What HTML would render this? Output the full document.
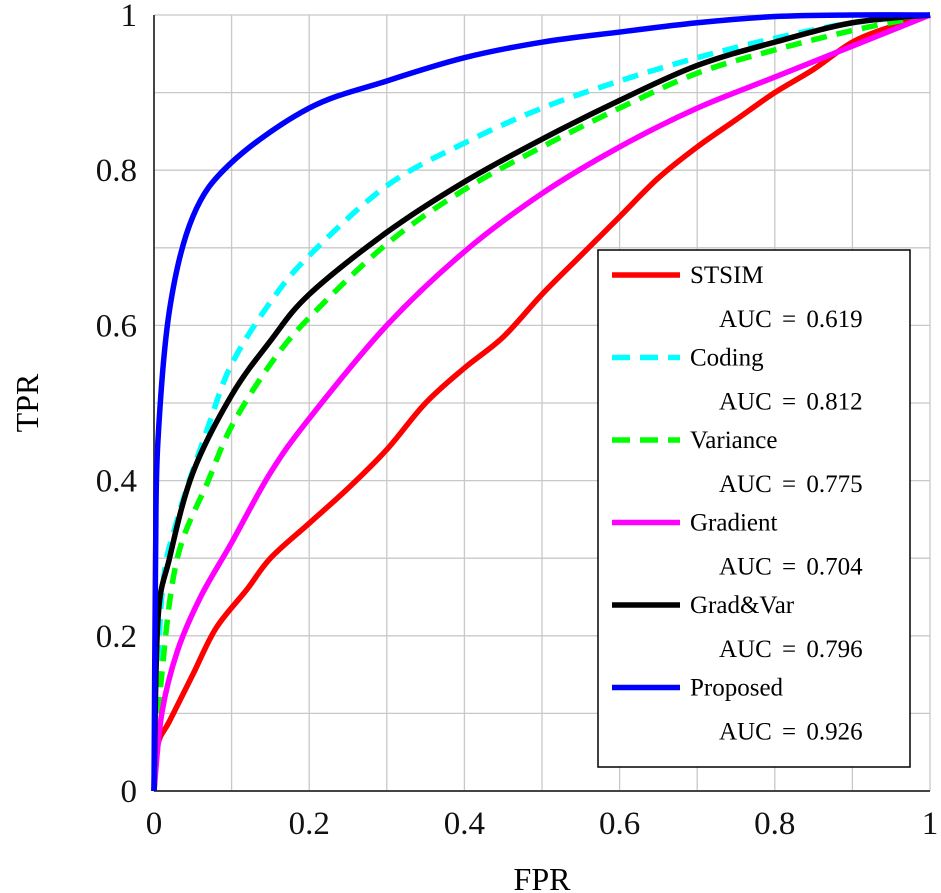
<!DOCTYPE html>
<html><head><meta charset="utf-8"><style>
body{margin:0;background:#fff}
svg{display:block;font-family:"Liberation Serif",serif}
</style></head><body>
<svg id="c" width="941" height="893"></svg>
<script>
const xTicks=[0,0.2,0.4,0.6,0.8,1];
const yTicks=[0,0.2,0.4,0.6,0.8,1];
const tickLabels=["0","0.2","0.4","0.6","0.8","1"];
const seriesNames=["STSIM","Coding","Variance","Gradient","Grad&Var","Proposed"];
const aucValues=["0.619","0.812","0.775","0.704","0.796","0.926"];
const stsimX=[0,0.005,0.02,0.05,0.08,0.12,0.15,0.2,0.25,0.3,0.35,0.4,0.45,0.5,0.55,0.6,0.65,0.7,0.75,0.8,0.85,0.9,0.95,1];
const stsimY=[0,0.06,0.09,0.15,0.21,0.26,0.3,0.345,0.39,0.44,0.5,0.545,0.585,0.64,0.69,0.74,0.79,0.83,0.865,0.9,0.93,0.965,0.985,1];
const codingX=[0,0.01,0.03,0.07,0.1,0.15,0.2,0.3,0.4,0.5,0.6,0.7,0.8,0.9,1];
const codingY=[0,0.25,0.35,0.47,0.55,0.63,0.69,0.78,0.835,0.88,0.915,0.945,0.97,0.99,1];
const varX=[0,0.01,0.03,0.07,0.1,0.15,0.2,0.3,0.4,0.5,0.6,0.7,0.8,0.9,1];
const varY=[0,0.15,0.3,0.4,0.47,0.55,0.61,0.705,0.775,0.83,0.88,0.925,0.955,0.98,1];
const gradX=[0,0.01,0.03,0.06,0.1,0.15,0.2,0.3,0.4,0.5,0.6,0.7,0.8,0.9,1];
const gradY=[0,0.1,0.18,0.25,0.32,0.41,0.48,0.6,0.695,0.77,0.83,0.88,0.92,0.96,1];
const gvX=[0,0.005,0.02,0.05,0.1,0.15,0.2,0.3,0.4,0.5,0.6,0.7,0.8,0.9,1];
const gvY=[0,0.22,0.3,0.41,0.51,0.58,0.64,0.72,0.785,0.84,0.89,0.935,0.965,0.99,1];
const propX=[0,0.002,0.005,0.02,0.05,0.1,0.2,0.3,0.4,0.5,0.6,0.7,0.8,0.9,1];
const propY=[0,0.3,0.45,0.62,0.74,0.81,0.88,0.915,0.945,0.965,0.978,0.99,0.998,1,1];

const NS="http://www.w3.org/2000/svg";
const svg=document.getElementById('c');
const X0=154,X1=930,Y0=791,Y1=15;
const sx=v=>X0+v*(X1-X0), sy=v=>Y0-v*(Y0-Y1);
function mk(t,a,p){const e=document.createElementNS(NS,t);for(const k in a)e.setAttribute(k,a[k]);(p||svg).appendChild(e);return e;}
const grid=mk('g',{});


for(let i=0;i<=10;i++){
  const v=i/10;
  mk('line',{x1:sx(v),x2:sx(v),y1:Y1,y2:Y0,stroke:'#c8c8c8','stroke-width':1.3},grid);
  mk('line',{x1:X0,x2:X1,y1:sy(v),y2:sy(v),stroke:'#c8c8c8','stroke-width':1.3},grid);
}
const ax=mk('line',{x1:X0,x2:X0,y1:Y1,y2:Y0,stroke:'#444','stroke-width':2});

const bx=mk('line',{x1:X0,x2:X1,y1:Y0,y2:Y0,stroke:'#444','stroke-width':2});

xTicks.forEach((v,i)=>{
  const t=mk('text',{x:sx(v),y:834,'font-size':33,'text-anchor':'middle',fill:'#111'});
  t.textContent=tickLabels[i];
  
  
});
yTicks.forEach((v,i)=>{
  const t=mk('text',{x:137,y:sy(v)+11,'font-size':33,'text-anchor':'end',fill:'#111'});
  t.textContent=tickLabels[i];
  
  
});
const xt=mk('text',{x:542,y:890,'font-size':32,'text-anchor':'middle'});xt.textContent='FPR';

const yt=mk('text',{x:38,y:403,'font-size':32,'text-anchor':'middle',transform:'rotate(-90 38 403)'});yt.textContent='TPR';


function pathD(xs,ys){
  const p=xs.map((x,i)=>[sx(x),sy(ys[i])]);
  let d=`M${p[0][0]},${p[0][1]}`;
  for(let i=0;i<p.length-1;i++){
    const a=p[Math.max(0,i-1)],b=p[i],c=p[i+1],e=p[Math.min(p.length-1,i+2)];
    const c1=[b[0]+(c[0]-a[0])/6,b[1]+(c[1]-a[1])/6],c2=[c[0]-(e[0]-b[0])/6,c[1]-(e[1]-b[1])/6];
    d+=` C${c1[0]},${c1[1]} ${c2[0]},${c2[1]} ${c[0]},${c[1]}`;
  }
  return d;
}
const series=[[stsimX,stsimY,'#ff0000',null,'stsim'],[codingX,codingY,'#00ffff','16 10','coding'],[varX,varY,'#00ff00','16 10','variance'],[gradX,gradY,'#ff00ff',null,'gradient'],[gvX,gvY,'#000000',null,'grad-var'],[propX,propY,'#0000ff',null,'proposed']];
series.forEach(s=>{
  const a={d:pathD(s[0],s[1]),fill:'none',stroke:s[2],'stroke-width':5.5,'stroke-linejoin':'round'};
  if(s[3])a['stroke-dasharray']=s[3];
  const e=mk('path',a);
  
  
});
const lg=mk('g',{});


mk('rect',{x:598,y:250,width:312,height:517,fill:'#fff',stroke:'#000','stroke-width':1.5},lg);
seriesNames.forEach((n,i)=>{
  const y=275+i*82.5;
  const a={x1:612,x2:680,y1:y,y2:y,stroke:series[i][2],'stroke-width':5.5};
  if(series[i][3])a['stroke-dasharray']='18 10';
  mk('line',a,lg);
  const t=mk('text',{x:690,y:y+8,'font-size':25},lg);t.textContent=n;
  
  
  const u=mk('text',{x:719,y:y+52,'font-size':25,'word-spacing':'4'},lg);u.textContent='AUC = '+aucValues[i];
  
  
});
</script>
</body></html>
